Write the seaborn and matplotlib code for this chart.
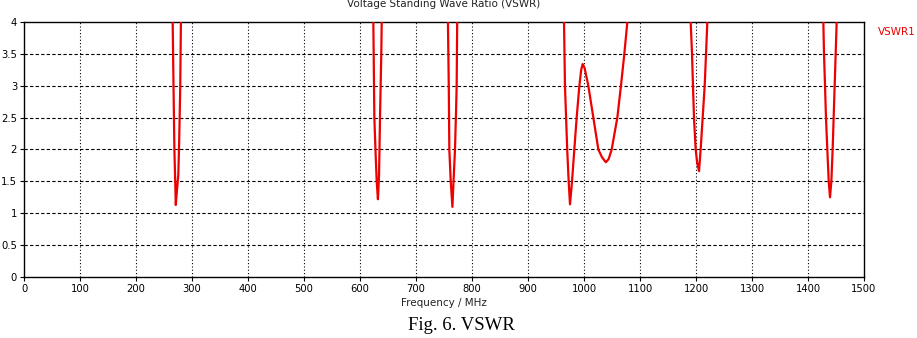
import numpy as np
import seaborn as sns
import matplotlib.pyplot as plt

# Frequency sweep (MHz), VSWR values per band
# values above 4 are off the top of the chart
band1_freq = [265, 266.5, 268.5, 270, 271, 272.5, 275.5, 277, 279, 280.5]
band1_vswr = [4.3, 3.3, 2.0, 1.5, 1.13, 1.3, 1.6, 2.1, 3.0, 4.3]

band2_freq = [622, 623.8, 625.6, 628, 629.8, 632, 634, 635.7, 638, 639.5]
band2_vswr = [4.6, 4.0, 2.5, 1.9, 1.5, 1.22, 1.6, 2.5, 3.5, 4.5]

band3_freq = [755, 757, 758.5, 759.5, 762, 765, 767, 769.6, 771.5, 772.6, 774]
band3_vswr = [4.6, 4.0, 3.0, 2.0, 1.5, 1.10, 1.5, 2.0, 2.6, 3.0, 4.5]

band4_freq = [962, 964.3, 966, 970, 972.6, 975, 978.6, 982.7, 986.9, 991.7,
              995, 997.6, 1001, 1007.7, 1016.7, 1025.6, 1032, 1039, 1044,
              1049.4, 1059.5, 1066, 1072, 1077.4, 1080]
band4_vswr = [4.8, 4.0, 3.0, 2.0, 1.5, 1.14, 1.5, 2.0, 2.5, 3.0,
              3.25, 3.34, 3.28, 3.0, 2.5, 2.0, 1.88, 1.80, 1.85,
              2.0, 2.5, 3.0, 3.5, 4.0, 4.3]

band5_freq = [1189, 1190.5, 1192.9, 1194.6, 1196.4, 1199.4, 1202, 1205.4,
              1208.3, 1211.9, 1215.5, 1217.9, 1220.2, 1222]
band5_vswr = [4.4, 4.0, 3.5, 3.0, 2.5, 2.0, 1.8, 1.66,
              2.0, 2.5, 3.0, 3.5, 4.0, 4.4]

band6_freq = [1426, 1427.4, 1428.6, 1430.4, 1432.1, 1434.5, 1437, 1439.3,
              1441.7, 1444, 1445.8, 1447.6, 1449.4, 1451.2, 1453]
band6_vswr = [4.4, 4.0, 3.5, 3.0, 2.5, 2.0, 1.5, 1.25,
              1.5, 2.0, 2.5, 3.0, 3.5, 4.0, 4.4]

# off-scale points between the bands
gap_freq = [0, 450, 700, 870, 1130, 1320, 1500]
gap_vswr = [12, 12, 12, 12, 12, 12, 12]

x_ticks = list(range(0, 1501, 100))
y_ticks = [0, 0.5, 1, 1.5, 2, 2.5, 3, 3.5, 4]
y_labels = ['0', '0.5', '1', '1.5', '2', '2.5', '3', '3.5', '4']

freq = np.concatenate([gap_freq[:1], band1_freq, gap_freq[1:2], band2_freq,
                       gap_freq[2:3], band3_freq, gap_freq[3:4], band4_freq,
                       gap_freq[4:5], band5_freq, gap_freq[5:6], band6_freq,
                       gap_freq[6:]])
vswr = np.concatenate([gap_vswr[:1], band1_vswr, gap_vswr[1:2], band2_vswr,
                       gap_vswr[2:3], band3_vswr, gap_vswr[3:4], band4_vswr,
                       gap_vswr[4:5], band5_vswr, gap_vswr[5:6], band6_vswr,
                       gap_vswr[6:]])

sns.set_theme(style='ticks')
plt.rcParams['font.family'] = ['DejaVu Sans']

fig = plt.figure(figsize=(9.17, 3.38), dpi=100)
ax = fig.add_axes([0.0262, 0.1805, 0.916, 0.7544])

sns.lineplot(x=freq, y=vswr, color='#ee0000', linewidth=1.6, ax=ax,
             sort=False, zorder=3)

ax.set_xlim(0, 1500)
ax.set_ylim(0, 4)
ax.set_xticks(x_ticks)
ax.set_yticks(y_ticks)
ax.set_yticklabels(y_labels)
ax.tick_params(labelsize=7.2, length=3, width=0.8, pad=2, colors='black')

for x in x_ticks[1:-1]:
    ax.axvline(x, color='black', linestyle=(0, (1, 2)), linewidth=0.8, zorder=1)
for y in y_ticks[1:-1]:
    ax.axhline(y, color='black', linestyle=(0, (3, 2)), linewidth=0.8, zorder=1)

for s in ax.spines.values():
    s.set_color('black')
    s.set_linewidth(1.0)

ax.set_xlabel('Frequency / MHz', fontsize=7.5, labelpad=3, color='#222222')
ax.set_ylabel('')

fig.text(0.484, 0.988, 'Voltage Standing Wave Ratio (VSWR)', fontsize=7.5,
         ha='center', va='center', color='#222222')
fig.text(0.957, 0.905, 'VSWR1', fontsize=7.5, color='#ee0000',
         ha='left', va='center')
fig.text(0.503, 0.037, 'Fig. 6. VSWR', fontsize=13.5, family='Liberation Serif',
         ha='center', va='center', color='black')

fig.savefig('out.png', dpi=100)
